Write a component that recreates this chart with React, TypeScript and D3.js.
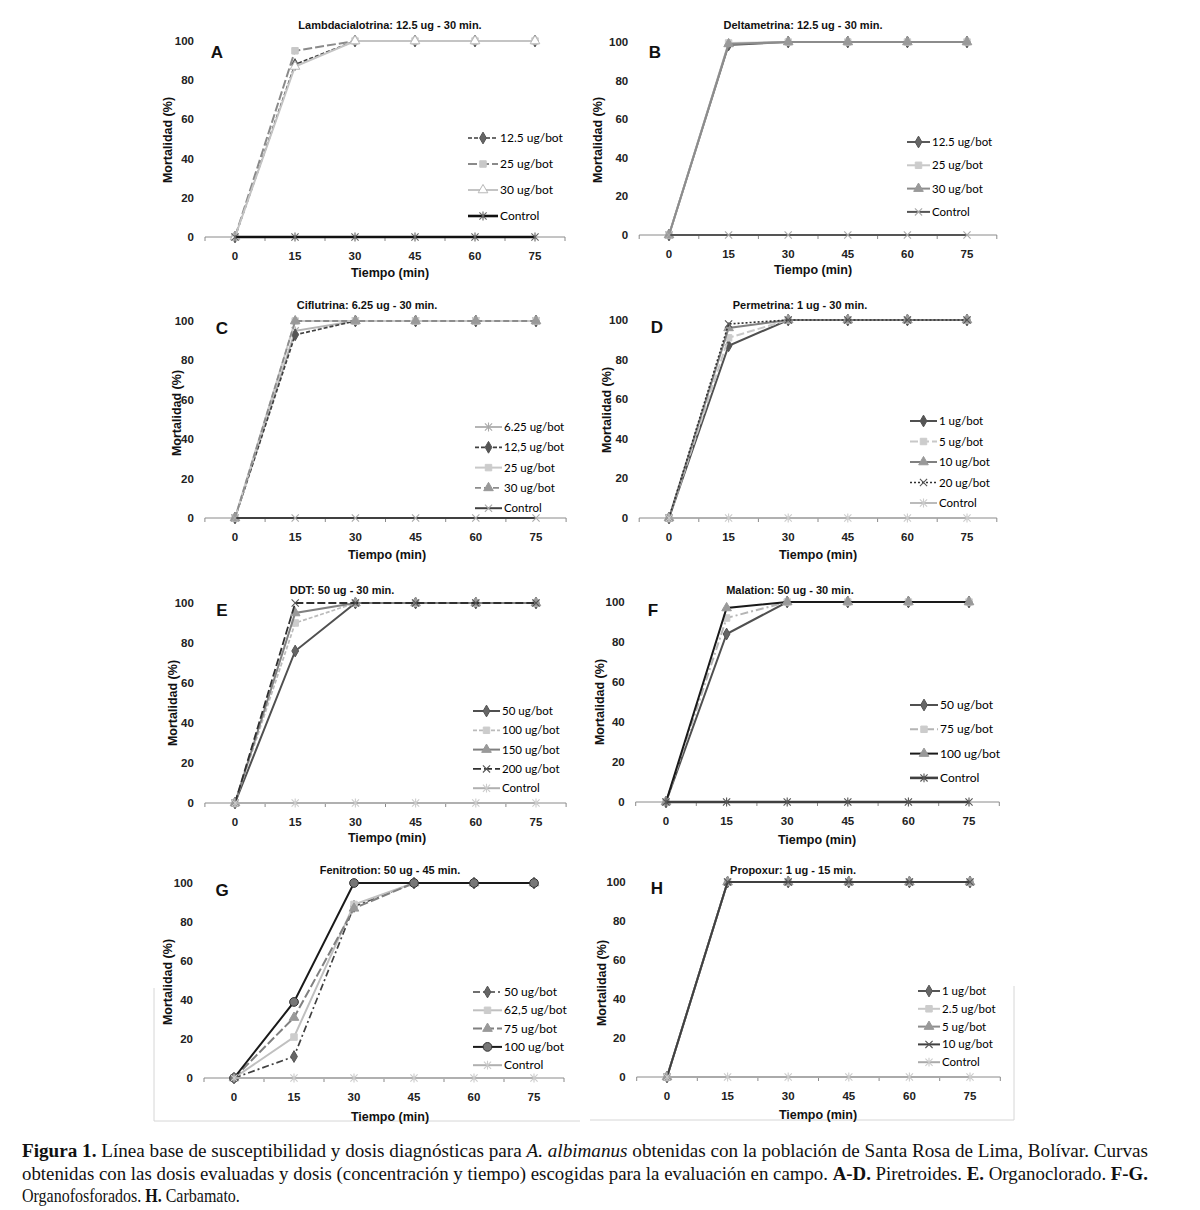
import React from "react";
import * as d3 from "d3";

// data
const times = ["0", "15", "30", "45", "60", "75"];
const yTicks = [0, 20, 40, 60, 80, 100];
const letters = ["A", "B", "C", "D", "E", "F", "G", "H"];
const titles = [
  "Lambdacialotrina: 12.5 ug - 30 min.",
  "Deltametrina: 12.5 ug - 30 min.",
  "Ciflutrina: 6.25 ug - 30 min.",
  "Permetrina: 1 ug - 30 min.",
  "DDT: 50 ug - 30 min.",
  "Malation: 50 ug - 30 min.",
  "Fenitrotion: 50 ug - 45 min.",
  "Propoxur: 1 ug - 15 min.",
];

const namesA = ["12.5 ug/bot", "25 ug/bot", "30 ug/bot", "Control"];
const valuesA = [
  [0, 88, 100, 100, 100, 100],
  [0, 95, 100, 100, 100, 100],
  [0, 87, 100, 100, 100, 100],
  [0, 0, 0, 0, 0, 0],
];
const namesB = ["12.5 ug/bot", "25 ug/bot", "30 ug/bot", "Control"];
const valuesB = [
  [0, 98.5, 100, 100, 100, 100],
  [0, 99.5, 100, 100, 100, 100],
  [0, 99, 100, 100, 100, 100],
  [0, 0, 0, 0, 0, 0],
];
const namesC = ["6.25 ug/bot", "12,5 ug/bot", "25 ug/bot", "30 ug/bot", "Control"];
const valuesC = [
  [0, 95, 100, 100, 100, 100],
  [0, 93, 100, 100, 100, 100],
  [0, 100, 100, 100, 100, 100],
  [0, 100, 100, 100, 100, 100],
  [0, 0, 0, 0, 0, 0],
];
const namesD = ["1 ug/bot", "5 ug/bot", "10 ug/bot", "20 ug/bot", "Control"];
const valuesD = [
  [0, 87, 100, 100, 100, 100],
  [0, 91, 100, 100, 100, 100],
  [0, 96, 100, 100, 100, 100],
  [0, 98, 100, 100, 100, 100],
  [0, 0, 0, 0, 0, 0],
];
const namesE = ["50 ug/bot", "100 ug/bot", "150 ug/bot", "200 ug/bot", "Control"];
const valuesE = [
  [0, 76, 100, 100, 100, 100],
  [0, 90, 100, 100, 100, 100],
  [0, 95, 100, 100, 100, 100],
  [0, 100, 100, 100, 100, 100],
  [0, 0, 0, 0, 0, 0],
];
const namesF = ["50 ug/bot", "75 ug/bot", "100 ug/bot", "Control"];
const valuesF = [
  [0, 84, 100, 100, 100, 100],
  [0, 92, 100, 100, 100, 100],
  [0, 97, 100, 100, 100, 100],
  [0, 0, 0, 0, 0, 0],
];
const namesG = ["50 ug/bot", "62,5 ug/bot", "75 ug/bot", "100 ug/bot", "Control"];
const valuesG = [
  [0, 11, 88, 100, 100, 100],
  [0, 21, 89, 100, 100, 100],
  [0, 31, 87, 100, 100, 100],
  [0, 39, 100, 100, 100, 100],
  [0, 0, 0, 0, 0, 0],
];
const namesH = ["1 ug/bot", "2.5 ug/bot", "5 ug/bot", "10 ug/bot", "Control"];
const valuesH = [
  [0, 100, 100, 100, 100, 100],
  [0, 100, 100, 100, 100, 100],
  [0, 100, 100, 100, 100, 100],
  [0, 100, 100, 100, 100, 100],
  [0, 0, 0, 0, 0, 0],
];

const allNames = [namesA, namesB, namesC, namesD, namesE, namesF, namesG, namesH];
const allValues = [valuesA, valuesB, valuesC, valuesD, valuesE, valuesF, valuesG, valuesH];

// line styles: color, width, dash, marker, marker fill, marker stroke
type St = { c: string; w: number; d?: string; m: string; mf: string; ms: string };
const S = (c: string, w: number, d: string | undefined, m: string, mf: string, ms: string): St => ({ c, w, d, m, mf, ms });
const styles: St[][] = [
  [
    S("#3c3c3c", 1.7, "4,2", "diamond", "#666", "#555"),
    S("#8a8a8a", 2, "9,3", "square", "#c8c8c8", "#c8c8c8"),
    S("#c4c4c4", 2, undefined, "triangle", "#fff", "#b8b8b8"),
    S("#111", 2.6, undefined, "asterisk", "none", "#666"),
  ],
  [
    S("#5a5a5a", 2, undefined, "diamond", "#666", "#555"),
    S("#c8c8c8", 2, undefined, "square", "#ccc", "#ccc"),
    S("#8c8c8c", 2, undefined, "triangle", "#999", "#999"),
    S("#555", 2, undefined, "x", "none", "#aaa"),
  ],
  [
    S("#b5b5b5", 2, undefined, "asterisk", "none", "#aaa"),
    S("#404040", 1.7, "4,2", "diamond", "#555", "#555"),
    S("#c8c8c8", 2, undefined, "square", "#ccc", "#ccc"),
    S("#8c8c8c", 1.8, "6,3", "triangle", "#999", "#999"),
    S("#404040", 2, undefined, "x", "none", "#aaa"),
  ],
  [
    S("#505050", 2, undefined, "diamond", "#555", "#555"),
    S("#c8c8c8", 2, "8,3", "square", "#ccc", "#ccc"),
    S("#808080", 2, undefined, "triangle", "#999", "#999"),
    S("#303030", 1.6, "2,2", "x", "none", "#555"),
    S("#aaa", 1.6, undefined, "asterisk", "none", "#ccc"),
  ],
  [
    S("#505050", 2, undefined, "diamond", "#666", "#555"),
    S("#bbb", 1.7, "4,2", "square", "#ccc", "#ccc"),
    S("#808080", 2, undefined, "triangle", "#999", "#999"),
    S("#303030", 1.8, "8,3", "x", "none", "#555"),
    S("#b0b0b0", 2, undefined, "asterisk", "none", "#ccc"),
  ],
  [
    S("#505050", 2, undefined, "diamond", "#666", "#555"),
    S("#b5b5b5", 2, "8,3,2,3", "square", "#ccc", "#ccc"),
    S("#1a1a1a", 2, undefined, "triangle", "#999", "#999"),
    S("#404040", 2.6, undefined, "asterisk", "none", "#555"),
  ],
  [
    S("#404040", 1.7, "7,3,2,3", "diamond", "#666", "#555"),
    S("#c0c0c0", 2, undefined, "square", "#ccc", "#ccc"),
    S("#808080", 2, "9,3", "triangle", "#999", "#999"),
    S("#1a1a1a", 2, undefined, "circle", "#777", "#333"),
    S("#b0b0b0", 2, undefined, "asterisk", "none", "#ccc"),
  ],
  [
    S("#555", 2, undefined, "diamond", "#666", "#555"),
    S("#c8c8c8", 2, undefined, "square", "#ccc", "#ccc"),
    S("#8c8c8c", 2, undefined, "triangle", "#999", "#999"),
    S("#404040", 2, undefined, "x", "none", "#555"),
    S("#aaa", 2, undefined, "asterisk", "none", "#ccc"),
  ],
];

// panel frames: first/last category centre, y of 100 and 0, title, letter, axis labels, legend
const frames = [
  { x0: 235, x5: 535, yt: 41, yb: 237, tx: 390, ty: 25, lx: 217, ly: 52, ylx: 168, yly: 140, xlx: 390, xly: 273, gx: 468, gl: 30, gy: 138, gd: 26, gf: 12 },
  { x0: 669, x5: 967, yt: 42, yb: 235, tx: 803, ty: 25, lx: 655, ly: 52, ylx: 598, yly: 140, xlx: 813, xly: 270, gx: 907, gl: 23, gy: 142, gd: 23.3, gf: 11.5 },
  { x0: 235, x5: 536, yt: 321, yb: 518, tx: 367, ty: 305, lx: 222, ly: 328, ylx: 177, yly: 413, xlx: 387, xly: 555, gx: 475, gl: 27, gy: 427, gd: 20.3, gf: 11.5 },
  { x0: 669, x5: 967, yt: 320, yb: 518, tx: 800, ty: 305, lx: 657, ly: 327, ylx: 607, yly: 410, xlx: 818, xly: 555, gx: 910, gl: 27, gy: 421, gd: 20.5, gf: 11.5 },
  { x0: 235, x5: 536, yt: 603, yb: 803, tx: 342, ty: 590, lx: 222, ly: 610, ylx: 173, yly: 703, xlx: 387, xly: 838, gx: 473, gl: 27, gy: 711, gd: 19.3, gf: 11.5 },
  { x0: 666, x5: 969, yt: 602, yb: 802, tx: 790, ty: 590, lx: 653, ly: 610, ylx: 600, yly: 702, xlx: 817, xly: 840, gx: 910, gl: 28, gy: 705, gd: 24.3, gf: 12 },
  { x0: 234, x5: 534, yt: 883, yb: 1078, tx: 390, ty: 870, lx: 222, ly: 890, ylx: 168, yly: 982, xlx: 390, xly: 1117, gx: 473, gl: 29, gy: 992, gd: 18.3, gf: 12 },
  { x0: 667, x5: 970, yt: 882, yb: 1077, tx: 793, ty: 870, lx: 657, ly: 888, ylx: 602, yly: 983, xlx: 818, xly: 1115, gx: 918, gl: 22, gy: 991, gd: 17.8, gf: 11.5 },
];

const sans = "'Liberation Sans', Arial, sans-serif";
const legendFont = "Lato, 'Open Sans', sans-serif";

function Marker({ kind, x, y, fill, stroke }: { kind: string; x: number; y: number; fill: string; stroke: string }) {
  if (kind === "asterisk" || kind === "x") {
    const r = 3.6;
    let d = `M${x - r},${y - r}L${x + r},${y + r}M${x - r},${y + r}L${x + r},${y - r}`;
    if (kind === "asterisk") d += `M${x},${y - r - 0.8}L${x},${y + r + 0.8}`;
    return <path d={d} stroke={stroke} strokeWidth={1.1} fill="none" />;
  }
  const typeMap: Record<string, d3.SymbolType> = {
    diamond: d3.symbolDiamond,
    square: d3.symbolSquare,
    triangle: d3.symbolTriangle,
    circle: d3.symbolCircle,
  };
  const size = kind === "circle" ? 60 : kind === "square" ? 42 : 40;
  const p = d3.symbol().type(typeMap[kind]).size(size)() || "";
  return <path d={p} transform={`translate(${x},${y})`} fill={fill} stroke={stroke} strokeWidth={1} />;
}

function Panel({ i }: { i: number }) {
  const f = frames[i];
  const step = (f.x5 - f.x0) / 5;
  const x = d3.scalePoint<string>().domain(times).range([f.x0 - step / 2, f.x5 + step / 2]).padding(0.5);
  const y = d3.scaleLinear().domain([0, 100]).range([f.yb, f.yt]);
  const line = d3
    .line<number>()
    .x((_, k) => x(times[k]) as number)
    .y((v) => y(v));
  const left = f.x0 - step / 2;
  const right = f.x5 + step / 2;
  const names = allNames[i];
  const vals = allValues[i];
  const st = styles[i];
  return (
    <g>
      <text x={f.tx} y={f.ty + 4} textAnchor="middle" fontFamily={sans} fontWeight="bold" fontSize={11} fill="#111">
        {titles[i]}
      </text>
      <text x={f.lx} y={f.ly + 6} textAnchor="middle" fontFamily={sans} fontWeight="bold" fontSize={17} fill="#111">
        {letters[i]}
      </text>
      {/* x axis */}
      <line x1={left} x2={right} y1={f.yb} y2={f.yb} stroke="#8a8a8a" strokeWidth={1} />
      {d3.range(7).map((k) => (
        <line key={k} x1={left + k * step} x2={left + k * step} y1={f.yb} y2={f.yb + 4} stroke="#8a8a8a" />
      ))}
      {times.map((t) => (
        <text key={t} x={x(t)} y={f.yb + 23} textAnchor="middle" fontFamily={sans} fontWeight="bold" fontSize={11.5} fill="#222">
          {t}
        </text>
      ))}
      {yTicks.map((t) => (
        <text key={t} x={left - 11} y={y(t) + 4} textAnchor="end" fontFamily={sans} fontWeight="bold" fontSize={11.5} fill="#222">
          {t}
        </text>
      ))}
      <text
        transform={`translate(${f.ylx + 4},${f.yly}) rotate(-90)`}
        textAnchor="middle"
        fontFamily={sans}
        fontWeight="bold"
        fontSize={12.5}
        fill="#111"
      >
        Mortalidad (%)
      </text>
      <text x={f.xlx} y={f.xly + 4} textAnchor="middle" fontFamily={sans} fontWeight="bold" fontSize={12.5} fill="#111">
        Tiempo (min)
      </text>
      {/* series */}
      {vals.map((v, s) => (
        <g key={s}>
          <path d={line(v) || ""} fill="none" stroke={st[s].c} strokeWidth={st[s].w} strokeDasharray={st[s].d} />
          {v.map((val, k) => (
            <Marker key={k} kind={st[s].m} x={x(times[k]) as number} y={y(val)} fill={st[s].mf} stroke={st[s].ms} />
          ))}
        </g>
      ))}
      {/* legend */}
      {names.map((n, s) => {
        const ly = f.gy + s * f.gd;
        return (
          <g key={n}>
            <line x1={f.gx} x2={f.gx + f.gl} y1={ly} y2={ly} stroke={st[s].c} strokeWidth={st[s].w} strokeDasharray={st[s].d} />
            <Marker kind={st[s].m} x={f.gx + f.gl / 2} y={ly} fill={st[s].mf} stroke={st[s].ms} />
            <text x={f.gx + f.gl + 2} y={ly + 4} fontFamily={legendFont} fontSize={f.gf} fill="#000">
              {n}
            </text>
          </g>
        );
      })}
    </g>
  );
}

export default function App() {
  const serif = "'Liberation Serif', 'Times New Roman', serif";
  return (
    <div style={{ position: "absolute", left: 0, top: 0 }}>
      <svg width={1200} height={1210} style={{ display: "block", background: "#fff" }}>
        <rect width={1200} height={1210} fill="#fff" />
        {/* faint chart-area borders visible in G and H */}
        <path d="M154,988V1121H580" fill="none" stroke="#d6d6d6" strokeWidth={1} />
        <path d="M590,1120H1014V986" fill="none" stroke="#d6d6d6" strokeWidth={1} />
        {letters.map((_, i) => (
          <Panel key={i} i={i} />
        ))}
        <g fontFamily={serif} fontSize={18} fill="#111">
          <text x={22} y={1157} textLength={1126} lengthAdjust="spacingAndGlyphs">
            <tspan fontWeight="bold">Figura 1.</tspan> Línea base de susceptibilidad y dosis diagnósticas para{" "}
            <tspan fontStyle="italic">A. albimanus</tspan> obtenidas con la población de Santa Rosa de Lima, Bolívar. Curvas
          </text>
          <text x={22} y={1180} textLength={1126} lengthAdjust="spacingAndGlyphs">
            obtenidas con las dosis evaluadas y dosis (concentración y tiempo) escogidas para la evaluación en campo.{" "}
            <tspan fontWeight="bold">A-D.</tspan> Piretroides. <tspan fontWeight="bold">E.</tspan> Organoclorado.{" "}
            <tspan fontWeight="bold">F-G.</tspan>
          </text>
          <text transform="translate(22,1202) scale(0.89,1)">
            Organofosforados. <tspan fontWeight="bold">H.</tspan> Carbamato.
          </text>
        </g>
      </svg>
    </div>
  );
}
